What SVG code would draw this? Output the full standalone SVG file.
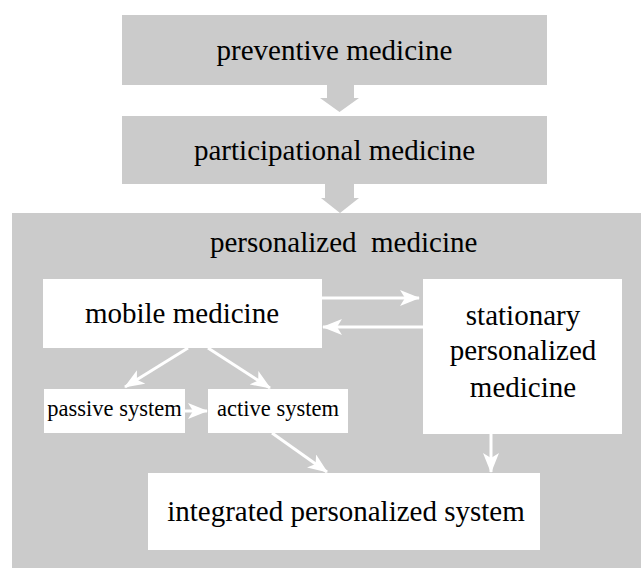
<svg xmlns="http://www.w3.org/2000/svg" width="641" height="570" viewBox="0 0 641 570">
<style>
.g{fill:#cbcbcb}
.w{fill:#ffffff}
.t{font-family:"Liberation Serif","DejaVu Serif",serif;font-size:29px;fill:#000;text-anchor:middle}
.s{font-family:"Liberation Serif","DejaVu Serif",serif;font-size:22.5px;fill:#000;text-anchor:middle}
.c{stroke:#ffffff;stroke-width:3;fill:none}
</style>
<defs>
<marker id="ah" markerUnits="userSpaceOnUse" markerWidth="20" markerHeight="16" viewBox="0 0 20 16" refX="19" refY="8" orient="auto">
<path d="M0,0 L20,8 L0,16 L5,8 z" fill="#ffffff"/>
</marker>
</defs>
<rect width="641" height="570" fill="#ffffff"/>
<g id="preventive">
<rect class="g" x="122" y="15" width="425" height="70"/>
<text class="t" x="334.5" y="60">preventive medicine</text>
</g>
<g id="participational">
<rect class="g" x="122" y="116" width="425" height="68"/>
<text class="t" x="334.5" y="160">participational medicine</text>
</g>
<g id="personalized">
<rect class="g" x="12" y="213" width="629" height="355"/>
<text class="t" x="210" y="252" style="text-anchor:start;white-space:pre">personalized  medicine</text>
</g>
<g id="mobile">
<rect class="w" x="43" y="279" width="279" height="69"/>
<text class="t" x="182" y="323">mobile medicine</text>
</g>
<g id="stationary">
<rect class="w" x="423" y="279" width="199" height="155"/>
<text class="t" x="523" y="325">stationary</text>
<text class="t" x="523" y="360">personalized</text>
<text class="t" x="523" y="397">medicine</text>
</g>
<g id="passive">
<rect class="w" x="44" y="389" width="141" height="44"/>
<text class="s" x="114.5" y="416">passive system</text>
</g>
<g id="active">
<rect class="w" x="208" y="389" width="140" height="44"/>
<text class="s" x="278" y="416">active system</text>
</g>
<g id="integrated">
<rect class="w" x="148" y="473" width="392" height="77"/>
<text class="t" x="346" y="521">integrated personalized system</text>
</g>
<g id="connectors">
<path class="g" d="M327,85 H354 V98 H359 L339.5,112 L320,98 H327 Z"/>
<path class="g" d="M325,184 H354 V198 H359 L340,213 L321,198 H325 Z"/>
<line class="c" x1="322" y1="298" x2="419" y2="298" marker-end="url(#ah)"/>
<line class="c" x1="423" y1="327" x2="323" y2="327" marker-end="url(#ah)"/>
<line class="c" x1="188" y1="348" x2="125" y2="387" marker-end="url(#ah)"/>
<line class="c" x1="208" y1="348" x2="270" y2="388" marker-end="url(#ah)"/>
<line class="c" x1="185" y1="411" x2="207" y2="411" marker-end="url(#ah)"/>
<line class="c" x1="272" y1="433" x2="327" y2="472" marker-end="url(#ah)"/>
<line class="c" x1="491" y1="434" x2="491" y2="472" marker-end="url(#ah)"/>
</g>
</svg>
